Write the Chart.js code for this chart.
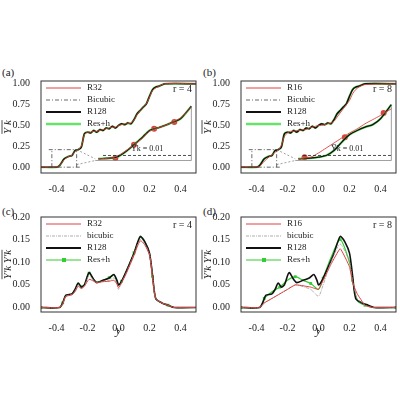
<!DOCTYPE html>
<html>
<head>
  <script src="https://cdn.jsdelivr.net/npm/chart.js"></script>
  <style>
    body { margin: 0; background: #fff; width: 400px; height: 400px; position: relative; overflow: hidden; font-family: 'Liberation Serif', serif; }
    .panel { position: absolute; }
    .tag { position: absolute; font-size: 11px; color: #222; }
  </style>
</head>
<body>
  <div class="tag" style="left:2px;top:66px">(a)</div>
  <div class="tag" style="left:203px;top:66px">(b)</div>
  <div class="tag" style="left:2px;top:205px">(c)</div>
  <div class="tag" style="left:203px;top:205px">(d)</div>
  <div class="panel" style="left:0;top:72px;width:200px;height:121px"><canvas id="a"></canvas></div>
  <div class="panel" style="left:200px;top:72px;width:200px;height:121px"><canvas id="b"></canvas></div>
  <div class="panel" style="left:0;top:208px;width:200px;height:130px"><canvas id="c"></canvas></div>
  <div class="panel" style="left:200px;top:208px;width:200px;height:130px"><canvas id="d"></canvas></div>

  <script>
    // mean mass fraction profiles (top row)
    const yA = [-0.5, -0.4, -0.38, -0.35, -0.32, -0.3, -0.28, -0.26, -0.24, -0.22, -0.2, -0.18, -0.16, -0.14, -0.12, -0.1, -0.08, -0.06, -0.04, -0.02, 0, 0.02, 0.04, 0.06, 0.08, 0.1, 0.12, 0.14, 0.16, 0.18, 0.2, 0.22, 0.24, 0.26, 0.3, 0.5];
    const meanR128 = [0, 0, 0.02, 0.1, 0.13, 0.14, 0.2, 0.21, 0.24, 0.4, 0.42, 0.41, 0.44, 0.42, 0.45, 0.44, 0.47, 0.46, 0.49, 0.47, 0.5, 0.52, 0.51, 0.53, 0.52, 0.57, 0.64, 0.68, 0.72, 0.76, 0.85, 0.93, 0.96, 0.97, 1.0, 1.0];
    const meanLowA = [0, 0, 0.02, 0.09, 0.13, 0.14, 0.19, 0.21, 0.25, 0.39, 0.42, 0.42, 0.43, 0.43, 0.44, 0.45, 0.46, 0.47, 0.48, 0.48, 0.5, 0.51, 0.52, 0.52, 0.53, 0.56, 0.63, 0.68, 0.72, 0.76, 0.84, 0.92, 0.95, 0.97, 1.0, 1.0];
    const meanLowB = [0, 0, 0.01, 0.07, 0.12, 0.15, 0.18, 0.2, 0.26, 0.37, 0.41, 0.43, 0.43, 0.44, 0.44, 0.45, 0.45, 0.47, 0.48, 0.49, 0.5, 0.5, 0.51, 0.52, 0.53, 0.55, 0.6, 0.65, 0.7, 0.75, 0.8, 0.88, 0.93, 0.96, 0.99, 1.0];
    // zoomed inset curves
    const yZoom = [-0.13, -0.05, 0, 0.05, 0.1, 0.15, 0.2, 0.25, 0.3, 0.35, 0.4, 0.47];
    const zoomA = [0.1, 0.11, 0.13, 0.19, 0.27, 0.35, 0.44, 0.47, 0.5, 0.54, 0.58, 0.73];
    const zoomLowA = [0.1, 0.11, 0.14, 0.2, 0.27, 0.34, 0.43, 0.47, 0.5, 0.54, 0.59, 0.72];
    const zoomB = [0.1, 0.11, 0.12, 0.14, 0.2, 0.3, 0.39, 0.44, 0.48, 0.51, 0.58, 0.75];
    const zoomLowB = [0.1, 0.12, 0.17, 0.23, 0.29, 0.35, 0.41, 0.46, 0.52, 0.57, 0.62, 0.7];
    const dotsA = [[-0.02, 0.11], [0.1, 0.27], [0.23, 0.46], [0.36, 0.54]];
    const dotsB = [[-0.09, 0.12], [0.17, 0.36], [0.42, 0.65]];

    // variance profiles (bottom row)
    const yV = [-0.5, -0.38, -0.36, -0.34, -0.3, -0.28, -0.26, -0.24, -0.22, -0.19, -0.16, -0.14, -0.1, -0.06, -0.03, -0.01, 0, 0.02, 0.05, 0.1, 0.14, 0.17, 0.2, 0.22, 0.24, 0.28, 0.32, 0.36, 0.5];
    const varR128 = [0, 0, 0.01, 0.027, 0.03, 0.04, 0.054, 0.045, 0.05, 0.077, 0.062, 0.055, 0.06, 0.065, 0.073, 0.06, 0.05, 0.058, 0.08, 0.12, 0.157, 0.145, 0.12, 0.07, 0.02, 0.01, 0.005, 0, 0];
    const varR32 = [0, 0, 0.008, 0.024, 0.028, 0.035, 0.047, 0.042, 0.047, 0.062, 0.058, 0.055, 0.057, 0.058, 0.06, 0.052, 0.044, 0.055, 0.075, 0.115, 0.147, 0.138, 0.115, 0.065, 0.02, 0.01, 0.005, 0, 0];
    const varBicA = [0, 0, 0.008, 0.025, 0.029, 0.037, 0.05, 0.043, 0.048, 0.07, 0.06, 0.055, 0.058, 0.06, 0.065, 0.052, 0.04, 0.055, 0.077, 0.118, 0.15, 0.14, 0.118, 0.068, 0.02, 0.01, 0.005, 0, 0];
    const varResA = [0, 0, 0.01, 0.027, 0.03, 0.04, 0.053, 0.046, 0.05, 0.076, 0.062, 0.056, 0.06, 0.066, 0.072, 0.058, 0.05, 0.058, 0.08, 0.121, 0.155, 0.145, 0.12, 0.068, 0.02, 0.01, 0.005, 0, 0];
    const yVB = [-0.5, -0.38, -0.35, -0.3, -0.25, -0.2, -0.15, -0.1, -0.05, 0, 0.03, 0.08, 0.14, 0.2, 0.22, 0.25, 0.3, 0.35, 0.5];
    const varR16 = [0, 0, 0.01, 0.02, 0.03, 0.04, 0.05, 0.048, 0.045, 0.04, 0.06, 0.095, 0.13, 0.09, 0.055, 0.03, 0.005, 0, 0];
    const varBicB = [0, 0, 0.01, 0.02, 0.03, 0.04, 0.05, 0.046, 0.04, 0.025, 0.05, 0.1, 0.14, 0.1, 0.06, 0.02, 0.005, 0, 0];
    const varResB = [0, 0, 0.02, 0.035, 0.045, 0.06, 0.068, 0.06, 0.053, 0.04, 0.065, 0.11, 0.15, 0.1, 0.06, 0.015, 0.005, 0, 0];
    const markIdxA = [2, 7, 13, 9, 17, 19, 23, 26, 0];
    const markIdxB = [2, 4, 6, 8, 10, 12, 14, 16, 0, 18];

    const xTicks = [-0.4, -0.2, 0.0, 0.2, 0.4];
    const RED = '#e04040', GREEN = '#33cc33', GREY = '#888';

    const pts = (xs, ys) => xs.map((x, i) => ({ x, y: ys[i] }));

    const frame = {
      id: 'frame',
      afterDraw(chart, args, o) {
        const { ctx, chartArea: a } = chart;
        ctx.save();
        ctx.strokeStyle = '#333'; ctx.lineWidth = 1;
        ctx.strokeRect(a.left, a.top, a.width, a.height);
        // legend
        ctx.font = '9px "Liberation Serif"';
        ctx.fillStyle = '#222'; ctx.textBaseline = 'middle';
        o.legend.forEach((l, i) => {
          const y = a.top + 7 + i * 12;
          ctx.strokeStyle = l.color; ctx.lineWidth = l.width; ctx.setLineDash(l.dash || []);
          ctx.beginPath(); ctx.moveTo(a.left + 5, y); ctx.lineTo(a.left + 40, y); ctx.stroke();
          if (l.mark) { ctx.fillStyle = l.color; ctx.fillRect(a.left + 21, y - 2, 4, 4); ctx.fillStyle = '#222'; }
          ctx.fillText(l.text, a.left + 46, y);
        });
        ctx.setLineDash([]);
        ctx.font = '10px "Liberation Serif"'; ctx.textAlign = 'right';
        ctx.fillText(o.r, a.right - 4, a.top + 8);
        // y title
        ctx.translate(8, (a.top + a.bottom) / 2);
        ctx.rotate(-Math.PI / 2);
        ctx.textAlign = 'center';
        ctx.font = 'italic 11px "Liberation Serif"';
        ctx.fillText(o.ytitle, 0, 0);
        const w = ctx.measureText(o.ytitle).width;
        ctx.beginPath(); ctx.lineWidth = 0.8; ctx.strokeStyle = '#222';
        ctx.moveTo(-w / 2, -6); ctx.lineTo(w / 2, -6); ctx.stroke();
        ctx.restore();
        if (o.note) {
          ctx.save();
          ctx.font = '8px "Liberation Serif"'; ctx.fillStyle = '#222';
          const px = chart.scales.x.getPixelForValue(o.note.x), py = chart.scales.y.getPixelForValue(o.note.y);
          ctx.fillText(o.note.text, px, py);
          ctx.restore();
        }
      }
    };

    function make(id, datasets, opt) {
      new Chart(document.getElementById(id), {
        type: 'scatter',
        data: { datasets },
        options: {
          responsive: true, maintainAspectRatio: false, animation: false,
          layout: { padding: { top: 2, right: 2 } },
          elements: { point: { radius: 0 }, line: { tension: 0.25 } },
          plugins: { legend: { display: false }, tooltip: { enabled: false }, frame: opt },
          scales: {
            x: {
              min: -0.5, max: 0.5,
              afterBuildTicks: s => { s.ticks = xTicks.map(v => ({ value: v })); },
              grid: { display: false }, border: { display: false },
              ticks: { font: { family: 'Liberation Serif', size: 10 }, color: '#222', callback: v => v.toFixed(1), maxRotation: 0, padding: 2 },
              title: { display: opt.xtitle, text: 'y', font: { family: 'Liberation Serif', size: 13, style: 'italic' }, padding: 0, color: '#222' },
              afterFit: s => { s.height = opt.xtitle ? 26 : 20; }
            },
            y: {
              min: opt.ymin, max: opt.ymax,
              afterBuildTicks: s => { s.ticks = opt.yticks.map(v => ({ value: v })); },
              grid: { display: false }, border: { display: false },
              ticks: { font: { family: 'Liberation Serif', size: 10 }, color: '#222', callback: v => v.toFixed(2), padding: 3 },
              afterFit: s => { s.width = 41; }
            }
          }
        },
        plugins: [frame]
      });
    }

    const line = (data, color, width, dash, extra) => Object.assign({ data, showLine: true, borderColor: color, borderWidth: width, borderDash: dash || [], pointRadius: 0 }, extra || {});
    const seg = (xs, ys, color, dash) => line(pts(xs, ys), color, 0.8, dash, { tension: 0 });

    function topSets(low, zoomHi, zoomLo, dots) {
      return [
        seg([-0.45, -0.25], [0.21, 0.21], '#444', [4, 2, 1, 2]),
        seg([-0.43, -0.43], [0, 0.21], '#444', [4, 2, 1, 2]),
        seg([-0.27, -0.27], [0, 0.21], '#444', [4, 2, 1, 2]),
        seg([-0.45, -0.25], [0, 0], '#444', [4, 2, 1, 2]),
        seg([-0.27, -0.15], [0.03, 0.08], GREY, [2, 2]),
        seg([-0.27, -0.15], [0.21, 0.1], GREY, [2, 2]),
        seg([-0.15, 0.47, 0.47], [0.08, 0.08, 0.73], GREY),
        seg([-0.1, 0.47], [0.14, 0.14], '#222', [3, 2]),
        line(pts(yZoom, zoomLo), RED, 0.9),
        line(pts(yZoom, zoomHi), '#111', 1.3),
        line(pts(yZoom, zoomHi), GREEN, 2.4, null, { borderColor: 'rgba(80,220,80,0.8)' }),
        { data: dots.map(d => ({ x: d[0], y: d[1] })), pointRadius: 3, backgroundColor: RED, borderWidth: 0 },
        line(pts(yA, low), RED, 0.9),
        line(pts(yA, meanR128), '#111', 1.5),
        line(pts(yA, meanR128), 'rgba(80,220,80,0.85)', 2.2)
      ];
    }

    const topOpt = (lo, r) => ({
      ymin: -0.07, ymax: 1.033, yticks: [0, 0.25, 0.5, 0.75, 1.0], xtitle: false, r, ytitle: 'Y k',
      note: { x: 0.08, y: 0.19, text: 'Y̅k = 0.01' },
      legend: [
        { text: lo, color: RED, width: 1 },
        { text: 'Bicubic', color: '#444', width: 0.8, dash: [4, 2, 1, 2] },
        { text: 'R128', color: '#111', width: 2 },
        { text: 'Res+h', color: 'rgba(80,220,80,0.85)', width: 2.5 }
      ]
    });
    const botOpt = (lo, r) => ({
      ymin: -0.01, ymax: 0.2, yticks: [0, 0.05, 0.1, 0.15, 0.2], xtitle: true, r, ytitle: "Y'k Y'k",
      legend: [
        { text: lo, color: RED, width: 1 },
        { text: 'bicubic', color: '#999', width: 0.8, dash: [3, 1, 1, 1] },
        { text: 'R128', color: '#111', width: 2 },
        { text: 'Res+h', color: GREEN, width: 1.2, mark: true }
      ]
    });

    make('a', topSets(meanLowA, zoomA, zoomLowA, dotsA), topOpt('R32', 'r = 4'));
    make('b', topSets(meanLowB, zoomB, zoomLowB, dotsB), topOpt('R16', 'r = 8'));

    make('c', [
      line(pts(yV, varR32), RED, 1),
      line(pts(yV, varBicA), '#999', 0.8, [3, 1, 1, 1]),
      line(pts(yV, varR128), '#111', 1.6),
      line(pts(yV, varResA), GREEN, 1.2),
      { data: markIdxA.map(i => ({ x: yV[i], y: varResA[i] })), pointRadius: 2, pointStyle: 'rect', backgroundColor: GREEN, borderWidth: 0 }
    ], botOpt('R32', 'r = 4'));
    make('d', [
      line(pts(yVB, varR16), RED, 1, null, { tension: 0.1 }),
      line(pts(yVB, varBicB), '#999', 0.8, [3, 1, 1, 1]),
      line(pts(yV, varR128), '#111', 1.6),
      line(pts(yVB, varResB), GREEN, 1.2),
      { data: markIdxB.map(i => ({ x: yVB[i], y: varResB[i] })), pointRadius: 2, pointStyle: 'rect', backgroundColor: GREEN, borderWidth: 0 }
    ], botOpt('R16', 'r = 8'));
  </script>
</body>
</html>
